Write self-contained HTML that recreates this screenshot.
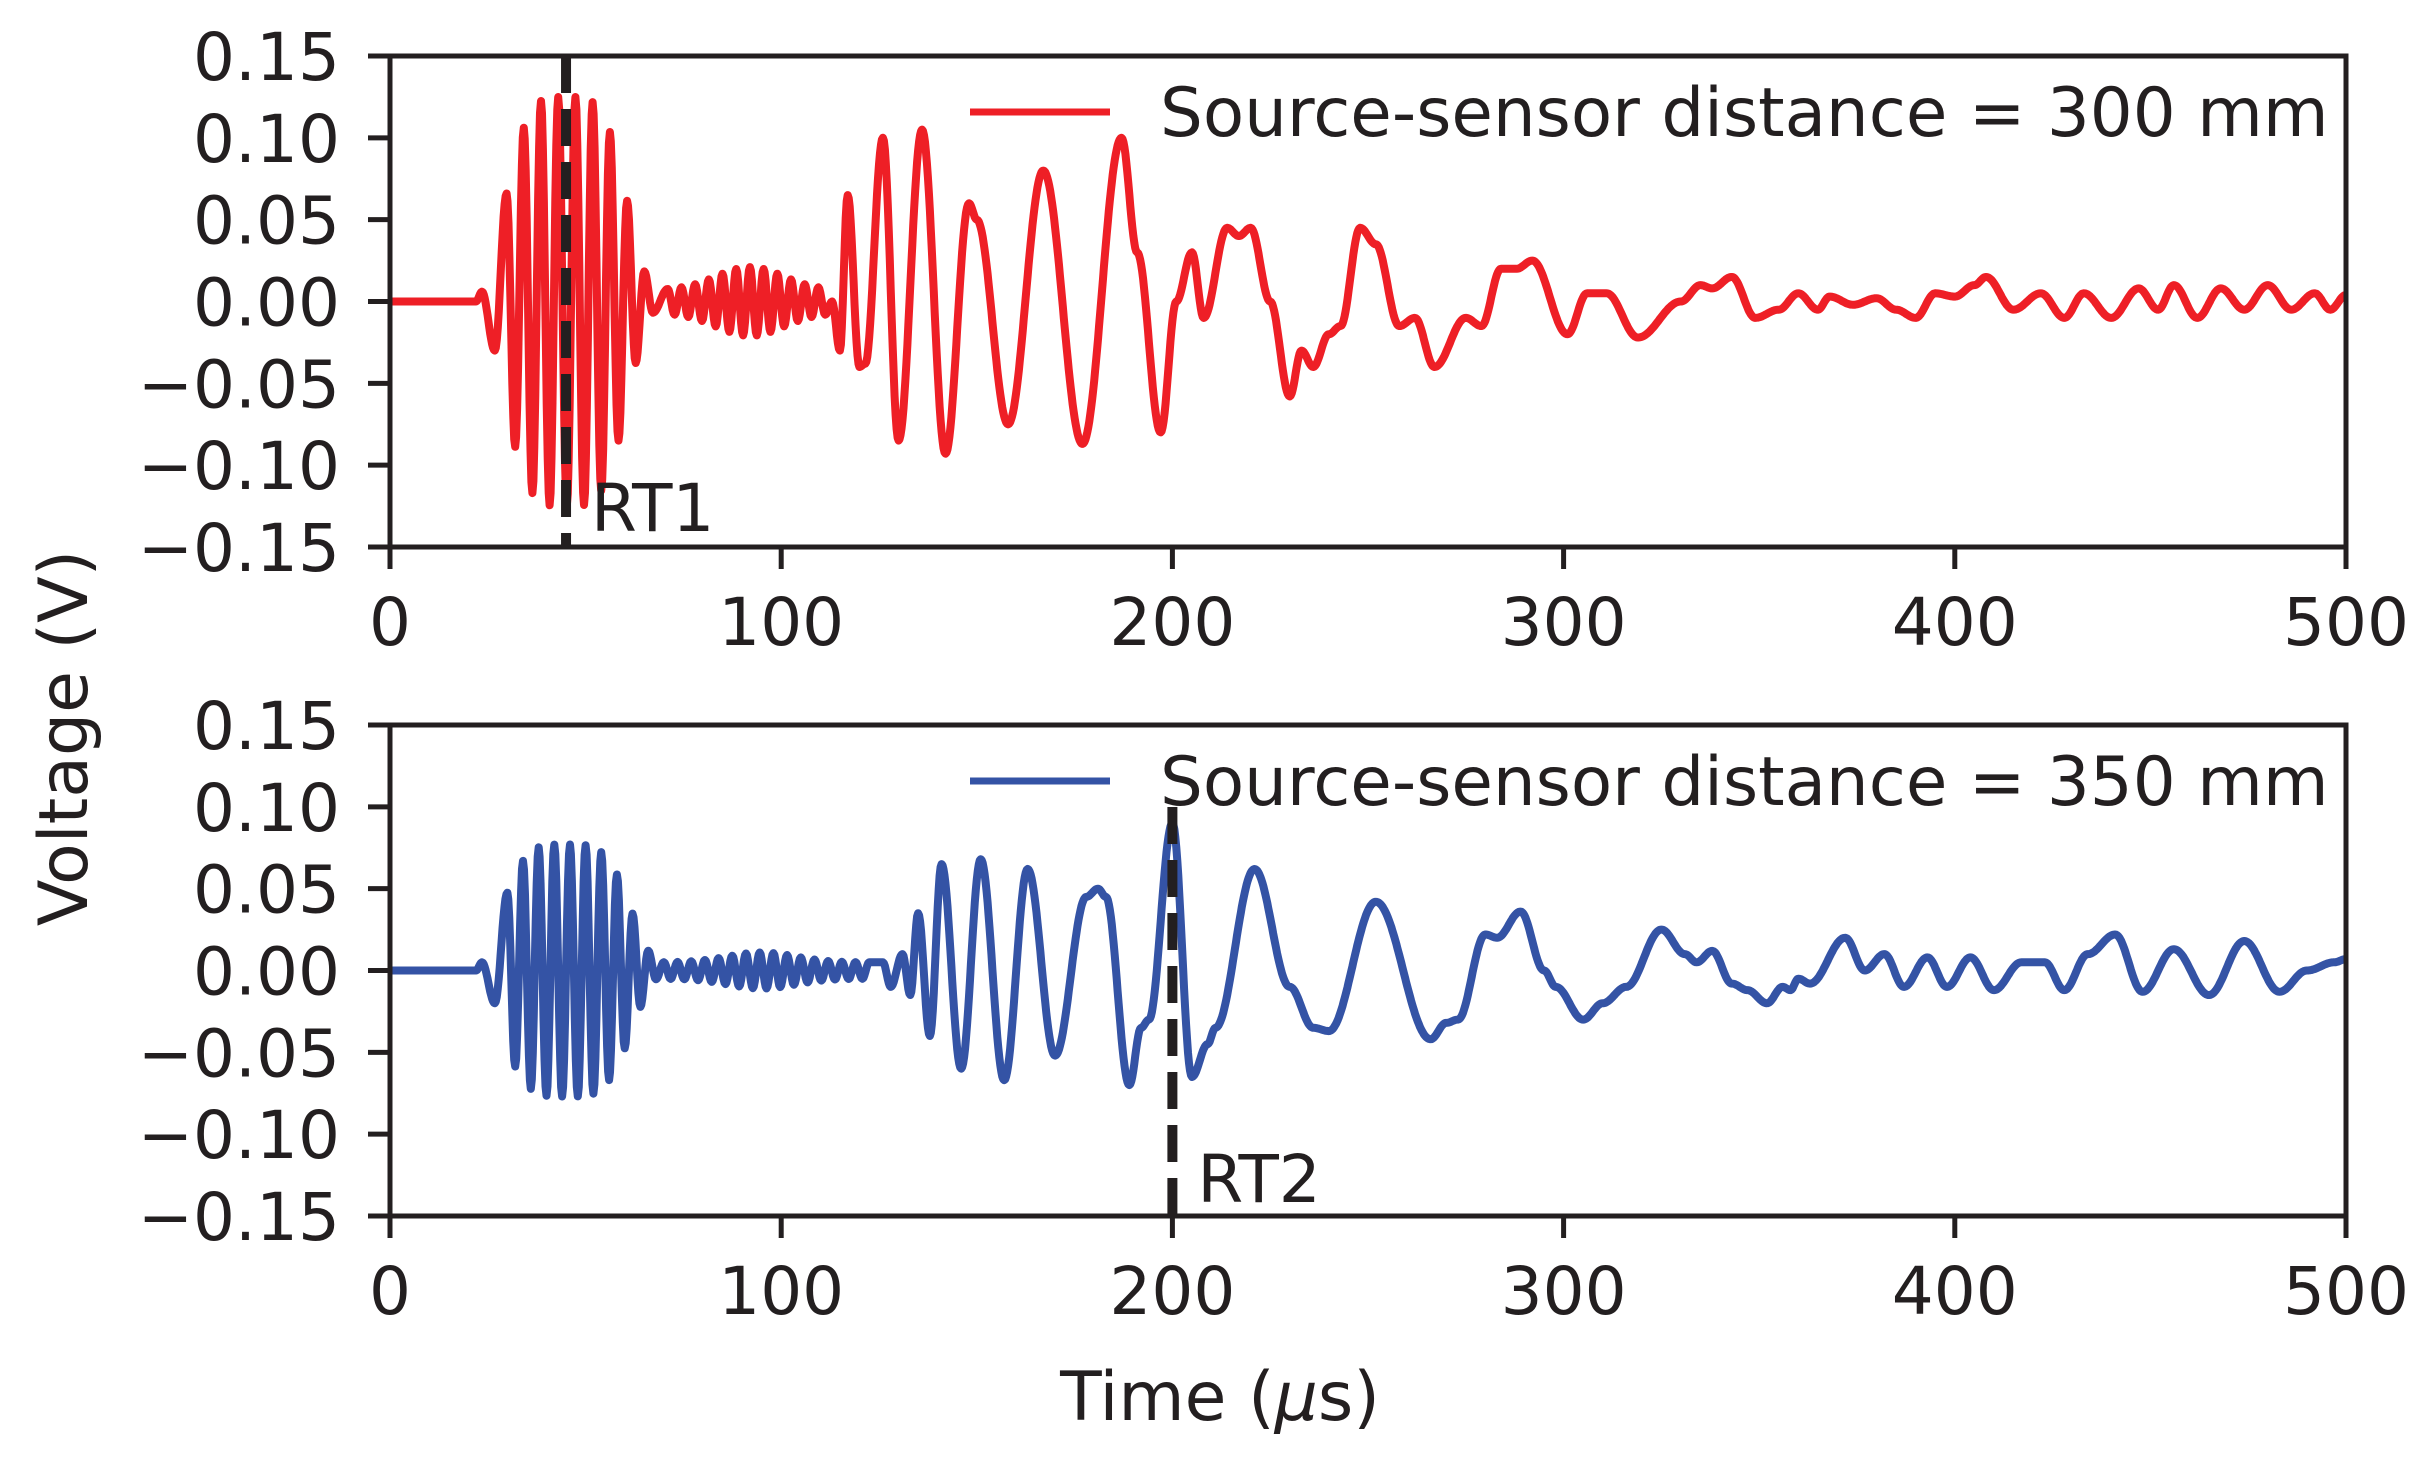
<!DOCTYPE html>
<html><head><meta charset="utf-8"><style>
html,body{margin:0;padding:0;background:#fff;}
svg text{font-family:"DejaVu Sans","Liberation Sans",sans-serif;fill:#231f20;}
</style></head><body>
<svg id="s" width="2433" height="1455" viewBox="0 0 2433 1455" xmlns="http://www.w3.org/2000/svg">
</svg>
<script>
const S=document.getElementById('s');
const NS='http://www.w3.org/2000/svg';
function el(t,a,txt){const e=document.createElementNS(NS,t);for(const k in a)e.setAttribute(k,a[k]);if(txt!==undefined)e.textContent=txt;S.appendChild(e);return e;}
const X0=390,X1=2346;
const xs=t=>X0+(t/500)*(X1-X0);
function ys(v,top){return top+(0.15-v)/0.3*491;}
function burst(pts,t0,t1,half,amp,c,s,startSign){
  let k=0;for(let t=t0;t<=t1;t+=half,k++){const e=amp*Math.exp(-Math.pow(Math.abs(t-c)/s,4));pts.push([t,(k%2==0?startSign:-startSign)*e]);}
}
function ripple(pts,t0,t1,half,base,bamp,bc,bs){
  let k=0;for(let t=t0;t<=t1;t+=half,k++){const a=base+bamp*Math.exp(-Math.pow((t-bc)/bs,2));pts.push([t,(k%2==0?1:-1)*a]);}
}
function path(pts,top){
  let d='';
  for(let i=0;i<pts.length-1;i++){
    const [ta,va]=pts[i],[tb,vb]=pts[i+1];
    const n=Math.max(2,Math.ceil((tb-ta)/0.25));
    for(let j=0;j<n;j++){const f=j/n;const w=(1-Math.cos(Math.PI*f))/2;const t=ta+(tb-ta)*f,v=va+(vb-va)*w;
      d+=(d?'L':'M')+xs(t).toFixed(1)+' '+ys(v,top).toFixed(1);}
  }
  const l=pts[pts.length-1];d+='L'+xs(l[0]).toFixed(1)+' '+ys(l[1],top).toFixed(1);
  return d;
}
// red
let R=[[0,0],[22,0],[23.5,0.006],[26.8,-0.03]];
burst(R,29.8,69,2.2,0.125,45,17,1);
ripple(R,71,112,1.75,0.007,0.014,92,12);
R=R.concat([[113,0],[115,-0.03],[117,0.065],[120,-0.04],[121.5,-0.038],[126,0.10],[130,-0.085],[136,0.105],[142,-0.093],[148,0.06],[150,0.05],[158,-0.075],[167,0.08],[177,-0.087],[187,0.10],[191,0.03],[197,-0.08],[201,0.0],[205,0.03],[208,-0.01],[214,0.045],[217,0.04],[220,0.045],[225,0.0],[230,-0.058],[233,-0.03],[236,-0.04],[240,-0.02],[243,-0.015],[248,0.045],[252,0.035],[258,-0.015],[262,-0.01],[267,-0.04],[275,-0.01],[279,-0.015],[284,0.02],[288,0.02],[292,0.025],[301,-0.02],[306,0.005],[311,0.005],[319,-0.022],[330,0.0],[335,0.01],[338,0.008],[343,0.015],[349,-0.01],[355,-0.005],[360,0.005],[365,-0.005],[368,0.003],[374,-0.002],[380,0.002],[385,-0.005],[390,-0.01],[395,0.005],[400,0.003],[405,0.01],[408,0.015],[415,-0.005],[422,0.005],[428,-0.01],[433,0.005],[440,-0.01],[447,0.008],[452,-0.005],[456,0.01],[462,-0.01],[468,0.008],[474,-0.005],[480,0.01],[486,-0.005],[492,0.005],[496,-0.005],[500,0.004]]);
// blue
let B=[[0,0],[22,0],[23.5,0.005],[26.8,-0.02]];
burst(B,30,68,2.0,0.077,45,18,1);
ripple(B,70,124,1.75,0.005,0.006,95,12);
B=B.concat([[126,0.005],[128,-0.01],[131,0.01],[133,-0.015],[135,0.035],[138,-0.04],[141,0.065],[146,-0.06],[151,0.068],[157,-0.067],[163,0.062],[170,-0.052],[178,0.045],[181,0.05],[183,0.045],[189,-0.07],[192,-0.035],[194,-0.03],[200,0.09],[205,-0.065],[209,-0.045],[211,-0.035],[221,0.062],[230,-0.01],[236,-0.035],[240,-0.037],[252,0.042],[266,-0.042],[270,-0.032],[273,-0.03],[280,0.022],[283,0.02],[289,0.036],[295,0.0],[298,-0.01],[305,-0.03],[310,-0.02],[316,-0.01],[325,0.025],[331,0.01],[334,0.005],[338,0.012],[343,-0.008],[347,-0.012],[352,-0.02],[356,-0.01],[358,-0.012],[360,-0.005],[363,-0.008],[372,0.02],[377,0.0],[382,0.01],[387,-0.01],[393,0.008],[398,-0.01],[404,0.008],[410,-0.012],[417,0.005],[423,0.005],[428,-0.012],[434,0.01],[441,0.022],[448,-0.013],[456,0.013],[465,-0.015],[474,0.018],[483,-0.013],[490,0.0],[497,0.005],[500,0.007]]);

function axes(top,pts,col,legend,rtx,rtTop,rtLabel,rtBase){
  const bot=top+491;
  el('path',{d:path(pts,top),fill:'none',stroke:col,'stroke-width':8,'stroke-linejoin':'round'});
  el('line',{x1:xs(rtx),x2:xs(rtx),y1:rtTop,y2:bot,stroke:'#231f20','stroke-width':10,'stroke-dasharray':'37,16'});
  el('text',{x:xs(rtx)+25,y:rtBase,'font-size':66},rtLabel);
  el('rect',{x:X0,y:top,width:X1-X0,height:491,fill:'none',stroke:'#231f20','stroke-width':5});
  const ticks=[0.15,0.10,0.05,0,-0.05,-0.10,-0.15];
  ticks.forEach(v=>{const y=ys(v,top);el('line',{x1:X0-22,x2:X0,y1:y,y2:y,stroke:'#231f20','stroke-width':5});
    el('text',{x:340,y:y+24,'font-size':66,'text-anchor':'end'},(v<0?'\u2212':'')+Math.abs(v).toFixed(2));});
  [0,100,200,300,400,500].forEach(t=>{const x=xs(t);el('line',{x1:x,x2:x,y1:bot,y2:bot+22,stroke:'#231f20','stroke-width':5});
    el('text',{x:x,y:bot+98,'font-size':66,'text-anchor':'middle'},String(t));});
  const ly=top+56;
  el('line',{x1:970,x2:1110,y1:ly,y2:ly,stroke:col,'stroke-width':7});
  el('text',{x:1160,y:ly+24,'font-size':67.5},legend);
}
axes(56,R,'#ee1f26','Source-sensor distance = 300 mm',45,56,'RT1',531);
axes(725,B,'#3453a5','Source-sensor distance = 350 mm',200,807,'RT2',1202);
el('text',{x:0,y:0,'font-size':68,'text-anchor':'middle',transform:'translate(87,738) rotate(-90)'},'Voltage (V)');
const tl=el('text',{x:1220,y:1420,'font-size':68,'text-anchor':'middle'});
tl.innerHTML='Time (<tspan font-style="italic">\u03bc</tspan>s)';
</script>
</body></html>
